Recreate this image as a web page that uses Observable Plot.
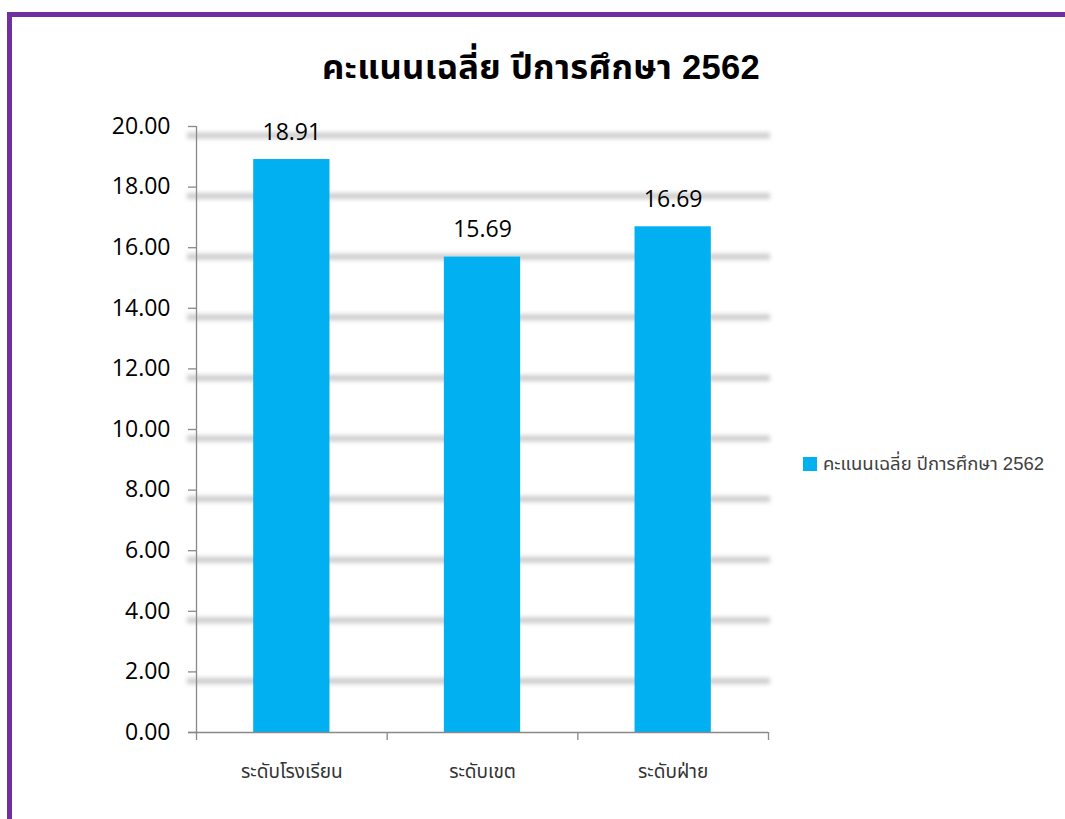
<!DOCTYPE html>
<html>
<head>
<meta charset="utf-8">
<script src="https://cdn.jsdelivr.net/npm/d3@7"></script>
<script src="https://cdn.jsdelivr.net/npm/@observablehq/plot@0.6"></script>
<style>
  html, body { margin: 0; padding: 0; background: #fff; overflow: hidden; }
  #wrap { position: relative; width: 1065px; height: 819px; }
  #frame { position: absolute; left: 7px; top: 12px; width: 1200px; height: 1000px;
           border: 5px solid #7030A0; box-sizing: border-box; pointer-events: none; }
  #title { position: absolute; left: 541px; top: 42px; transform: translateX(-50%);
           font: bold 34.5px "Liberation Sans", "Noto Sans Thai", Tahoma, sans-serif; color: #000; white-space: nowrap; letter-spacing: 0.3px; }
  #legend { position: absolute; left: 803px; top: 450px; display: flex; align-items: center;
            font: 18.5px "Liberation Sans", "Noto Sans Thai", Tahoma, sans-serif; color: #404040; white-space: nowrap; }
  #legend .sw { width: 14px; height: 14px; background: #00B0F0; margin-right: 6px; }
  #chart { position: absolute; left: 0; top: 0; }
</style>
</head>
<body>
<div id="wrap">
  <div id="chart"></div>
  <div id="title"></div>
  <div id="legend"><div class="sw"></div><span id="legtext"></span></div>
  <div id="frame"></div>
</div>
<script>
const title = "คะแนนเฉลี่ย ปีการศึกษา 2562";
const categories = ["ระดับโรงเรียน", "ระดับเขต", "ระดับฝ่าย"];
const values = [18.91, 15.69, 16.69];
const yTicks = [0, 2, 4, 6, 8, 10, 12, 14, 16, 18, 20];

document.getElementById("title").textContent = title;
document.getElementById("legtext").textContent = title;

const data = categories.map((c, i) => ({category: c, i, value: values[i]}));
const numFont = "'Open Sans', Carlito, Lato, sans-serif";
const thaiFont = "'Liberation Sans', 'Noto Sans Thai', Tahoma, sans-serif";
const axisGray = "#898989";

const chart = Plot.plot({
  width: 1065,
  height: 819,
  marginTop: 126,
  marginBottom: 87,
  marginLeft: 196,
  marginRight: 297,
  style: {background: "transparent", overflow: "visible"},
  x: {type: "linear", domain: [0, categories.length]},
  y: {domain: [0, 20]},
  marks: [
    Plot.ruleY(yTicks.filter(d => d > 0), {
      dy: 9, stroke: "#cdcdcd", strokeWidth: 6, insetLeft: -9, insetRight: -2, ariaLabel: "grid"
    }),
    Plot.rectY(data, {x1: d => d.i + 0.3, x2: d => d.i + 0.7, y: "value", fill: "#00B0F0"}),
    Plot.ruleX([0], {y1: 0, y2: 20, stroke: axisGray, strokeWidth: 1.3}),
    Plot.ruleY([0], {stroke: axisGray, strokeWidth: 1.3, insetLeft: -8}),
    Plot.axisY({
      ticks: yTicks, tickFormat: d => d.toFixed(2), tickSize: 8, tickPadding: 18,
      fontSize: 23, stroke: axisGray, strokeWidth: 1.3, fill: "#000", fontFamily: numFont, label: null
    }),
    Plot.axisX({
      ticks: d3.range(0, categories.length + 1), tickFormat: () => "", tickSize: 8,
      stroke: axisGray, strokeWidth: 1.3, label: null
    }),
    Plot.text(data, {
      x: d => d.i + 0.5, y: "value", text: d => d.value.toFixed(2), dy: -27,
      fontSize: 23, fill: "#000", fontFamily: numFont
    }),
    Plot.text(data, {
      x: d => d.i + 0.5, y: 0, text: "category", dy: 39,
      fontSize: 19, fill: "#333", fontFamily: thaiFont
    })
  ]
});
const svgEl = chart.tagName.toLowerCase() === "svg" ? chart : chart.querySelector("svg");
const svg = d3.select(svgEl);
svg.insert("defs", ":first-child").append("filter")
  .attr("id", "gridblur").attr("filterUnits", "userSpaceOnUse")
  .attr("x", 0).attr("y", 0).attr("width", 1065).attr("height", 819)
  .append("feGaussianBlur").attr("stdDeviation", 2);
let grid = svg.select('g[aria-label="grid"]');
if (grid.empty()) grid = svg.select('g[aria-label="rule"]');
grid.attr("filter", "url(#gridblur)");
document.getElementById("chart").appendChild(chart);
</script>
</body>
</html>
